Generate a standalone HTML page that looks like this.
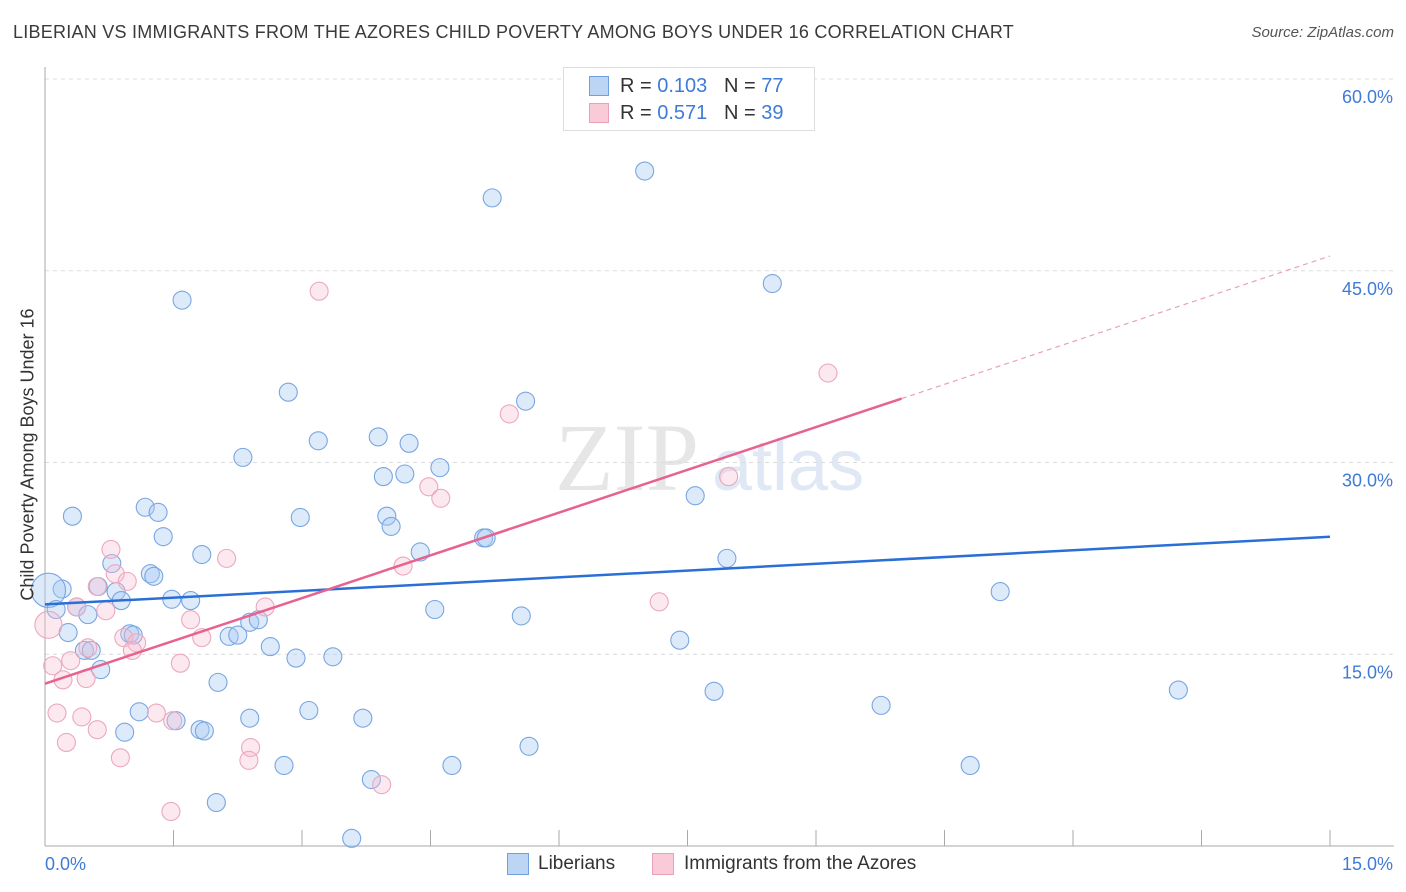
<!DOCTYPE html>
<html><head><meta charset="utf-8"><style>
body{margin:0;background:#fff;font-family:"Liberation Sans",sans-serif;}
#wrap{position:relative;width:1406px;height:892px;overflow:hidden;}
.t{position:absolute;white-space:nowrap;}
</style></head><body>
<div id="wrap">
<div class="t" style="left:13px;top:22px;font-size:18px;letter-spacing:0.25px;color:#3a3a3a;">LIBERIAN VS IMMIGRANTS FROM THE AZORES CHILD POVERTY AMONG BOYS UNDER 16 CORRELATION CHART</div>
<div class="t" style="right:12px;top:24px;font-size:15px;color:#555;font-style:italic;">Source: ZipAtlas.com</div>
<svg id="svg" width="1406" height="892" style="position:absolute;left:0;top:0;">
<text x="555" y="490" font-size="96" font-family="Liberation Serif,serif" fill="#e6e6e6">ZIP</text>
<text x="712" y="490" font-size="72" font-family="Liberation Sans,sans-serif" fill="#dfe8f4">atlas</text>
</svg>
<div class="t" style="left:-172px;top:444px;width:400px;text-align:center;font-size:18px;color:#333;transform:rotate(-90deg);">Child Poverty Among Boys Under 16</div>
<div style="position:absolute;left:563px;top:67px;width:250px;height:62px;border:1px solid #ddd;background:#fff;">
 <div style="position:absolute;left:25px;top:8px;width:18px;height:18px;background:#bcd5f5;border:1px solid #6fa0e0;"></div>
 <div class="t" style="left:56px;top:7px;font-size:20px;color:#333;">R = <span style="color:#3f7bd6">0.103</span> &nbsp;&nbsp;N = <span style="color:#3f7bd6">77</span></div>
 <div style="position:absolute;left:25px;top:35px;width:18px;height:18px;background:#f9cbd8;border:1px solid #eaa0b8;"></div>
 <div class="t" style="left:56px;top:34px;font-size:20px;color:#333;">R = <span style="color:#3f7bd6">0.571</span> &nbsp;&nbsp;N = <span style="color:#3f7bd6">39</span></div>
</div>
<div>
 <div style="position:absolute;left:507px;top:853px;width:20px;height:20px;background:#bcd5f5;border:1px solid #6fa0e0;"></div>
 <div class="t" style="left:538px;top:853px;font-size:19px;color:#333;">Liberians</div>
 <div style="position:absolute;left:652px;top:853px;width:20px;height:20px;background:#f9cbd8;border:1px solid #eaa0b8;"></div>
 <div class="t" style="left:684px;top:853px;font-size:19px;color:#333;">Immigrants from the Azores</div>
</div>
</div>
<script>
const yTicks=[15,30,45,60];
const yTickLabels=["15.0%","30.0%","45.0%","60.0%"];
const xTickLabels=["0.0%","15.0%"];
const blueX=[7.00,5.22,1.60,8.49,2.84,5.61,3.19,3.89,4.25,2.31,4.61,3.95,4.20,7.59,0.32,1.17,1.32,2.98,3.99,4.04,1.38,5.12,5.15,1.83,4.38,7.96,0.78,1.23,1.27,0.62,0.20,0.04,0.83,0.89,1.48,1.70,11.15,0.13,0.37,0.50,4.55,5.56,0.27,0.99,1.03,2.15,2.25,2.39,2.49,2.63,7.41,0.46,0.54,0.65,2.93,3.36,2.02,7.81,13.23,9.76,1.10,1.53,2.39,3.08,3.71,0.93,1.81,1.86,5.65,2.79,4.75,10.80,3.81,2.00,3.58];
const blueY=[52.8,50.7,42.7,44.0,35.5,34.8,31.7,32.0,31.5,30.4,29.6,28.9,29.1,27.4,25.8,26.5,26.1,25.7,25.8,25.0,24.2,24.1,24.1,22.8,23.0,22.5,22.1,21.3,21.1,20.3,20.1,20.0,19.9,19.2,19.3,19.2,19.9,18.5,18.7,18.1,18.5,18.0,16.7,16.6,16.5,16.4,16.5,17.5,17.7,15.6,16.1,15.3,15.3,13.8,14.7,14.8,12.8,12.1,12.2,11.0,10.5,9.8,10.0,10.6,10.0,8.9,9.1,9.0,7.8,6.3,6.3,6.3,5.2,3.4,0.6];
const blueSize=blueX.map((v,i)=>i===31?1.9:1);
const pinkX=[3.20,9.14,5.42,4.48,4.62,7.98,0.77,2.12,4.18,0.82,0.96,0.61,0.37,0.71,2.57,7.17,1.70,0.04,0.92,1.83,1.07,0.50,1.02,0.09,0.30,1.58,0.21,0.48,0.14,0.43,1.30,1.49,0.61,0.25,2.40,2.38,0.88,3.93,1.47];
const pinkY=[43.4,37.0,33.8,28.1,27.2,28.9,23.2,22.5,21.9,21.3,20.7,20.3,18.7,18.4,18.7,19.1,17.7,17.3,16.3,16.3,15.9,15.5,15.3,14.1,14.5,14.3,13.0,13.1,10.4,10.1,10.4,9.8,9.1,8.1,7.7,6.7,6.9,4.8,2.7];
const pinkSize=pinkX.map((v,i)=>i===17?1.5:1);
const blueLine=[18.9,0.353];
const pinkLine=[12.7,2.23];
const pinkSolidEnd=10.0;

const X=v=>45+v/15*1285, Y=v=>846-v/60*767;
const svg=document.getElementById('svg'),NS='http://www.w3.org/2000/svg';
function mk(tag,a){const e=document.createElementNS(NS,tag);for(const k in a)e.setAttribute(k,a[k]);svg.appendChild(e);return e;}
yTicks.forEach((t,i)=>{
 const g=mk('line',{x1:45,x2:1394,y1:Y(t),y2:Y(t),stroke:'#dcdcdc','stroke-dasharray':'4,4'});
 
 
 const tx=mk('text',{x:1393,y:Y(t)+24,'text-anchor':'end','font-size':18,fill:'#3f7bd6','font-family':'Liberation Sans,sans-serif'});
 tx.textContent=yTickLabels[i];
 
 
});
const ax=mk('line',{x1:45,x2:45,y1:67,y2:846,stroke:'#aaa'});


const bx=mk('line',{x1:45,x2:1394,y1:846,y2:846,stroke:'#aaa'});


for(let i=0;i<=10;i++){const t=mk('line',{x1:X(i*1.5),x2:X(i*1.5),y1:830,y2:846,stroke:'#aaa'});
 
 }
[[xTickLabels[0],45,'start'],[xTickLabels[1],1393,'end']].forEach(([s,x,a])=>{
 const t=mk('text',{x:x,y:870,'text-anchor':a,'font-size':18,fill:'#3f7bd6','font-family':'Liberation Sans,sans-serif'});t.textContent=s;
 
 });
blueX.forEach((x,i)=>{const c=mk('circle',{cx:X(x),cy:Y(blueY[i]),r:9*blueSize[i],fill:'rgba(170,202,242,0.4)',stroke:'#78a6e2','stroke-width':1.1});
 
 });
pinkX.forEach((x,i)=>{const c=mk('circle',{cx:X(x),cy:Y(pinkY[i]),r:9*pinkSize[i],fill:'rgba(247,190,208,0.35)',stroke:'#eca8bd','stroke-width':1.1});
 
 });
const bl=mk('line',{x1:X(0),y1:Y(blueLine[0]),x2:X(15),y2:Y(blueLine[0]+blueLine[1]*15),stroke:'#2a6fd6','stroke-width':2.5});


const pl=mk('line',{x1:X(0),y1:Y(pinkLine[0]),x2:X(pinkSolidEnd),y2:Y(pinkLine[0]+pinkLine[1]*pinkSolidEnd),stroke:'#e8628f','stroke-width':2.5});


const pd=mk('line',{x1:X(pinkSolidEnd),y1:Y(pinkLine[0]+pinkLine[1]*pinkSolidEnd),x2:X(15),y2:Y(pinkLine[0]+pinkLine[1]*15),stroke:'#eaa0b8','stroke-width':1.2,'stroke-dasharray':'5,4'});


</script>
</body></html>
